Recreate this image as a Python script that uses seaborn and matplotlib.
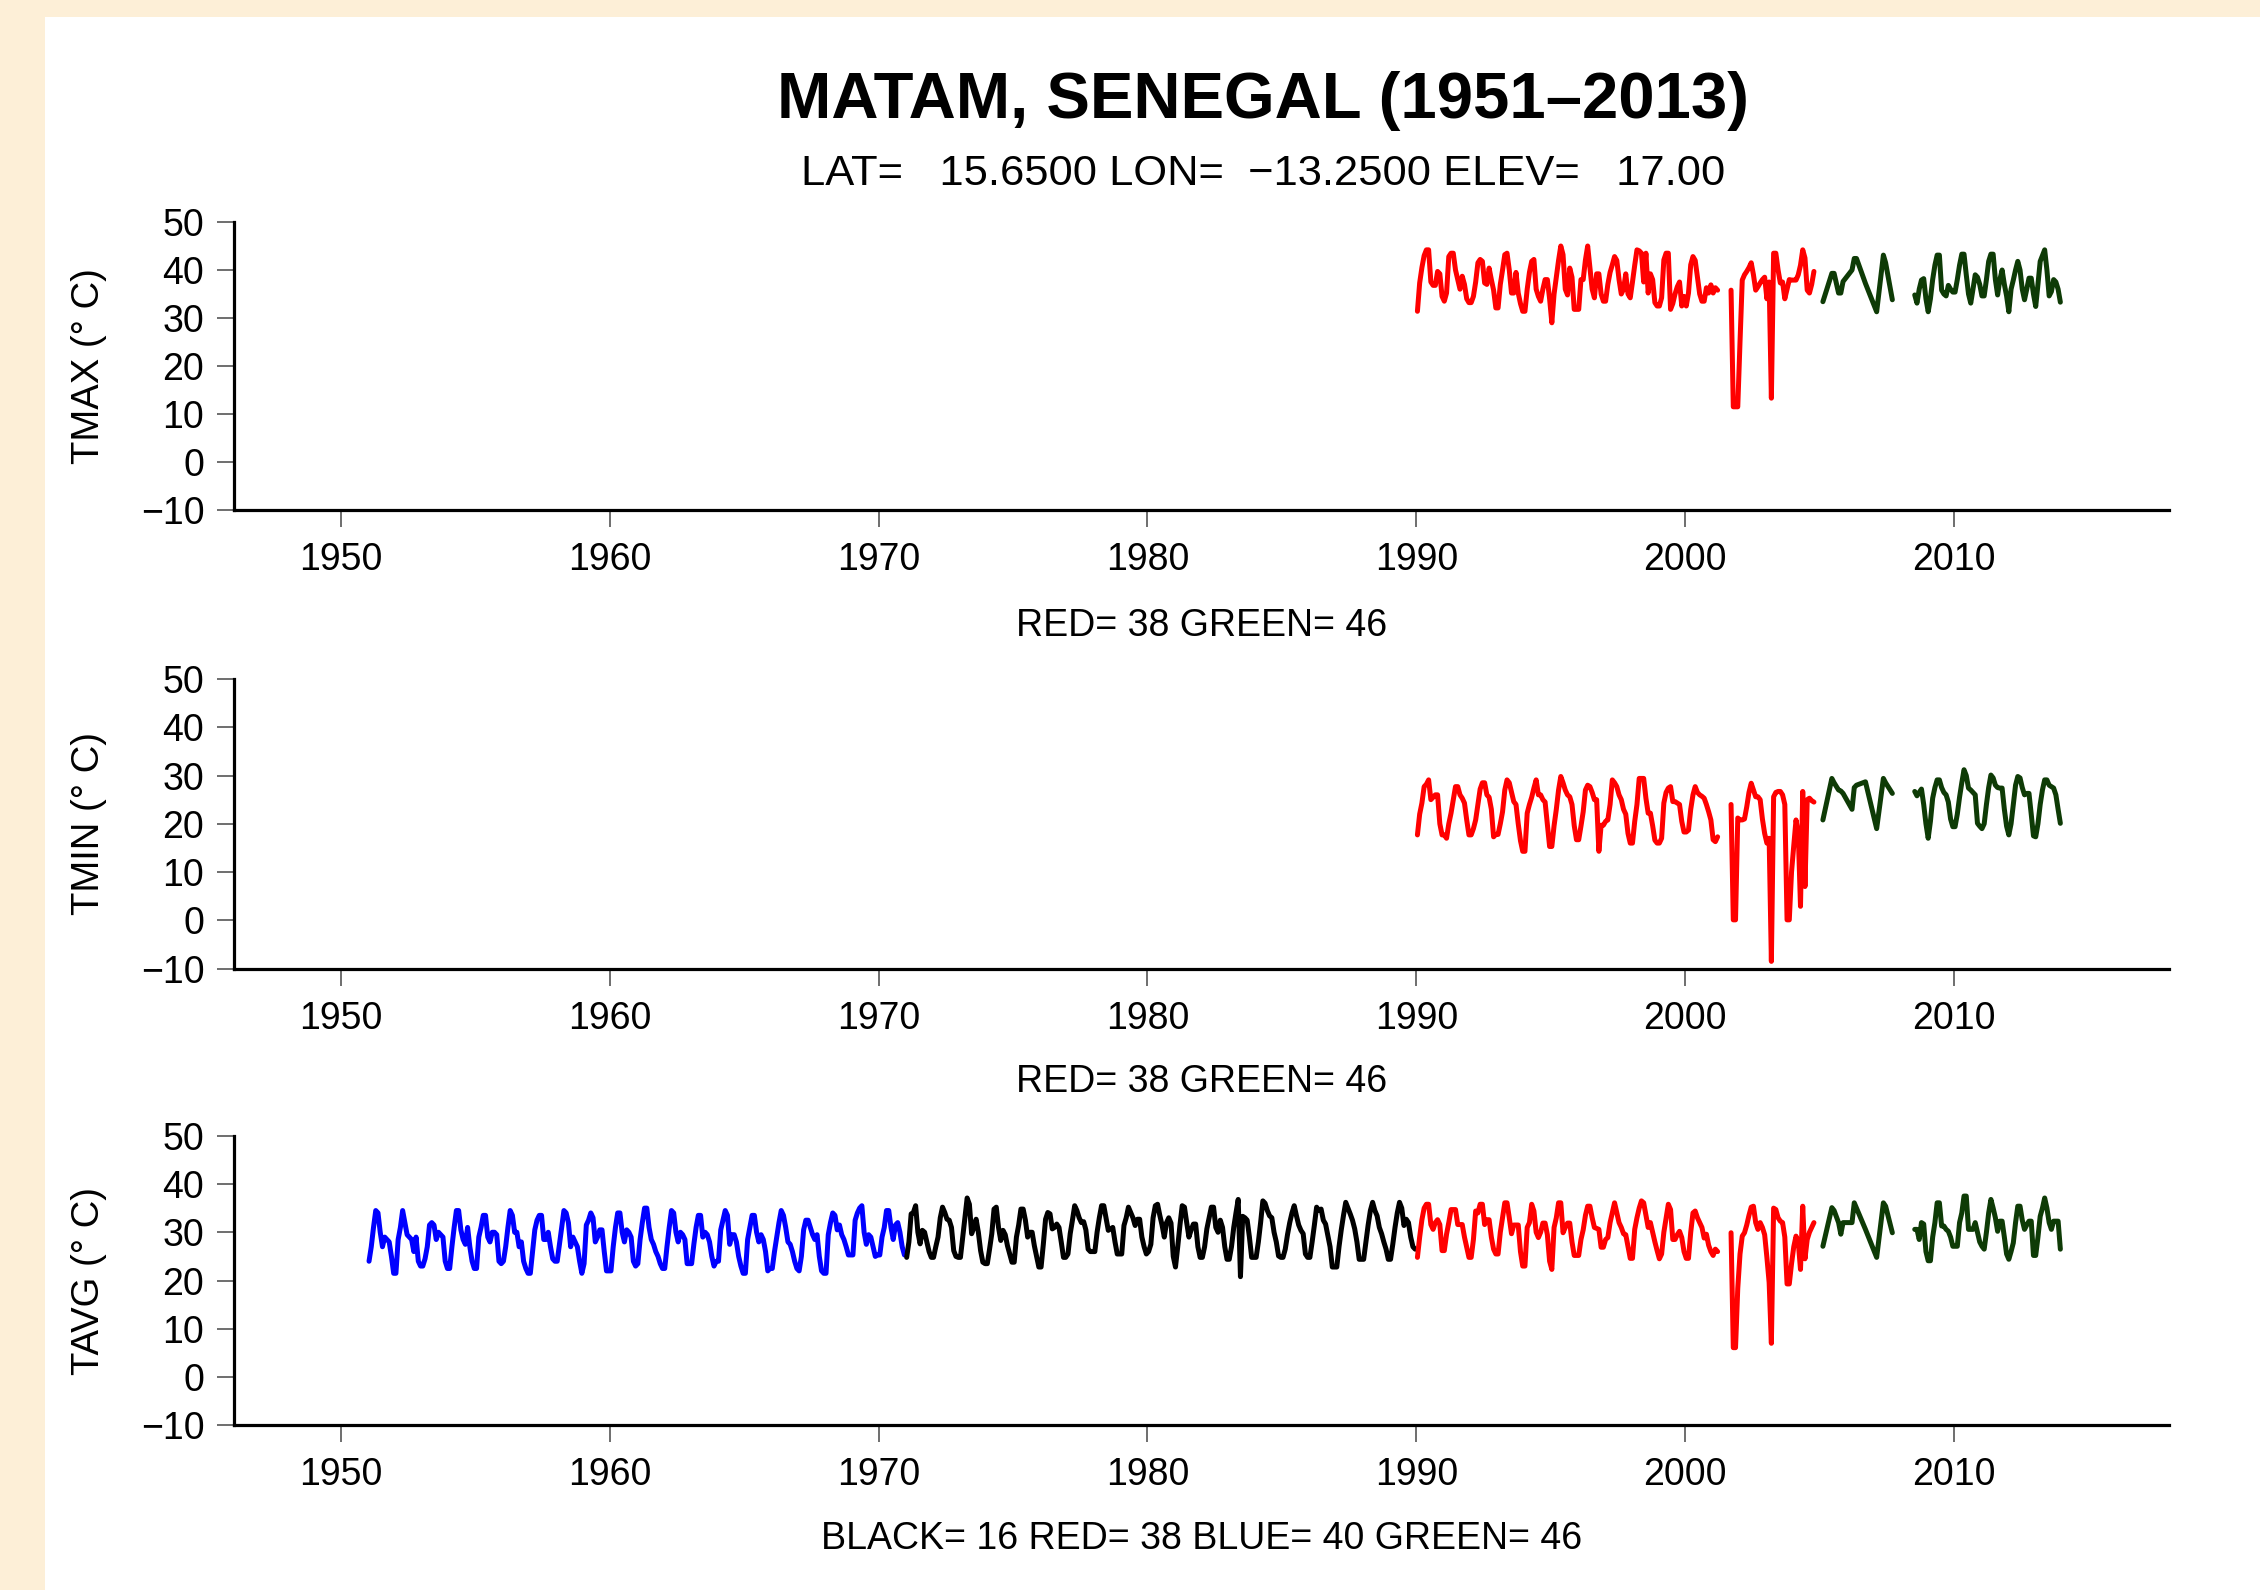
import numpy as np
import pandas as pd
import matplotlib
matplotlib.use("Agg")
import matplotlib.pyplot as plt
import seaborn as sns
from matplotlib.patches import Rectangle

# ---------------- data (monthly values) ----------------
# RED source, first block: Jan 1990 - Mar 2001
tmax_red1 = [31.4, 37.3, 40.5, 43.0, 44.2, 44.2, 37.5, 36.8, 36.8, 39.7, 39.2, 34.5,
             33.5, 35.2, 42.8, 43.5, 43.5, 40.0, 38.0, 36.0, 38.7, 37.0, 34.0, 33.2,
             33.2, 34.5, 37.5, 41.5, 42.2, 41.8, 37.3, 37.0, 40.4, 38.0, 35.8, 32.1,
             32.1, 37.0, 40.0, 43.2, 43.5, 40.0, 35.2, 35.2, 39.5, 35.2, 33.0, 31.4,
             31.4, 36.0, 39.5, 41.8, 42.2, 36.0, 34.5, 33.5, 36.0, 38.0, 38.0, 34.0,
             29.0, 35.0, 38.5, 42.0, 45.0, 43.2, 36.0, 34.8, 40.4, 38.5, 31.8, 31.8,
             31.8, 38.0, 38.0, 42.1, 45.0, 40.4, 36.0, 34.2, 39.2, 39.2, 35.0, 33.5,
             33.5, 37.0, 39.5, 41.1, 42.8, 42.0, 38.0, 35.0, 36.0, 39.2, 35.0, 34.2,
             37.5, 41.0, 44.2, 44.0, 43.5, 37.5, 43.5, 35.2, 39.2, 38.0, 33.2, 32.5,
             32.5, 34.2, 42.1, 43.5, 43.5, 31.8, 33.0, 35.0, 36.5, 37.5, 32.5, 34.5,
             32.5, 35.2, 41.1, 42.8, 42.0, 38.5, 35.0, 33.5, 33.5, 36.3, 35.2, 36.9,
             35.2, 36.3, 35.8]
tmin_red1 = [17.7, 22.0, 24.3, 27.7, 28.2, 29.1, 25.0, 25.5, 26.0, 26.0, 20.0, 17.7,
             17.7, 17.0, 20.0, 22.2, 25.0, 27.7, 27.7, 26.0, 25.3, 24.3, 20.8, 17.7,
             17.7, 19.0, 20.8, 24.0, 27.2, 28.5, 28.5, 26.0, 25.5, 23.0, 17.3, 17.8,
             17.8, 20.0, 22.5, 27.0, 29.1, 28.5, 26.5, 24.6, 24.0, 20.0, 16.5, 14.3,
             14.3, 22.2, 24.0, 25.5, 27.4, 29.1, 26.0, 26.0, 25.0, 24.5, 20.0, 15.3,
             15.3, 19.6, 23.0, 27.0, 29.8, 28.5, 27.0, 26.0, 25.6, 24.0, 19.6, 16.7,
             16.7, 19.5, 22.5, 27.0, 28.0, 27.7, 26.5, 25.0, 25.0, 14.3, 19.7, 19.7,
             20.5, 20.8, 24.0, 29.1, 28.5, 27.7, 26.0, 25.0, 23.0, 22.0, 18.0, 16.0,
             16.0, 20.5, 24.0, 29.4, 29.4, 29.4, 25.3, 22.2, 22.2, 19.6, 16.6, 16.0,
             16.0, 17.0, 24.3, 26.5, 27.4, 27.7, 24.6, 24.6, 24.3, 24.0, 20.5, 18.3,
             18.3, 18.7, 23.0, 26.0, 27.7, 26.5, 26.0, 25.7, 25.3, 24.0, 22.5, 20.8,
             16.7, 16.3, 17.3]
tavg_red1 = [24.8, 29.0, 32.6, 35.0, 35.8, 35.8, 31.6, 30.6, 32.0, 32.6, 31.6, 26.2,
             26.2, 29.6, 32.0, 34.7, 34.7, 34.7, 31.6, 31.6, 31.6, 29.0, 26.9, 24.8,
             24.8, 28.5, 34.4, 34.0, 35.8, 35.8, 31.6, 32.6, 32.6, 29.0, 26.5, 25.5,
             25.5, 30.0, 33.0, 36.1, 36.1, 33.0, 29.7, 31.5, 31.5, 31.5, 26.0, 23.0,
             23.0, 31.0, 32.0, 35.8, 34.4, 30.0, 28.9, 30.0, 31.9, 31.9, 29.5, 24.0,
             22.3, 31.0, 33.0, 36.1, 36.1, 29.9, 31.0, 31.9, 31.9, 28.0, 25.2, 25.2,
             25.2, 28.5, 30.5, 33.5, 35.4, 35.4, 33.0, 31.0, 30.8, 30.6, 26.9, 26.9,
             28.5, 28.9, 32.0, 34.0, 36.1, 34.0, 32.0, 31.0, 29.7, 29.5, 27.0, 24.6,
             24.6, 30.6, 33.0, 35.0, 36.5, 36.1, 33.5, 31.0, 32.0, 30.0, 28.0, 26.2,
             24.5, 25.5, 30.0, 32.9, 35.8, 34.7, 28.5, 28.5, 29.5, 30.2, 28.9, 26.0,
             24.6, 24.6, 30.0, 34.0, 34.4, 33.0, 32.0, 31.0, 28.8, 29.6, 27.3, 26.0,
             25.2, 26.5, 26.0]

# RED source, second block: Sep 2001 - Oct 2004
tmax_red2 = [35.8, 11.5, 11.5, 11.5,
             25.0, 37.9, 39.0, 39.7, 40.5, 41.5, 39.0, 35.8, 36.5, 37.3, 38.0, 38.5,
             34.0, 37.5, 13.3, 43.5, 43.5, 40.0, 37.3, 37.5, 34.0, 36.0, 38.0, 37.9,
             37.9, 37.9, 39.0, 41.0, 44.2, 42.5, 35.8, 35.2, 37.0, 39.7]
tmin_red2 = [24.0, 0.1, 0.1, 21.2,
             20.8, 20.8, 21.0, 23.5, 26.5, 28.4, 27.0, 25.6, 25.6, 25.0, 21.0, 18.0,
             16.0, 17.0, -8.5, 25.6, 26.5, 26.7, 26.7, 26.0, 24.0, 0.1, 0.1, 10.0,
             15.5, 20.8, 18.0, 2.9, 26.7, 7.0, 25.0, 25.3, 24.8, 24.5]
tavg_red2 = [29.9, 6.1, 6.1, 18.4,
             25.5, 29.2, 29.9, 31.5, 33.5, 35.2, 35.4, 32.0, 30.6, 32.0, 31.0, 29.5,
             24.8, 19.6, 7.0, 35.0, 34.7, 33.0, 32.3, 32.0, 29.0, 19.3, 19.3, 23.5,
             27.0, 29.2, 28.0, 22.3, 35.4, 24.5, 28.5, 30.0, 31.0, 32.0]

# GREEN source, sparse block: months counted from Jan 2005
green1_month_index = [1, 5, 6, 8, 9, 10, 14, 15, 16, 20, 25, 28, 29, 32]
tmax_green1 = [33.4, 39.3, 39.3, 35.2, 35.2, 37.6, 40.0, 42.4, 42.4, 37.2, 31.3, 43.1, 41.5, 33.8]
tmin_green1 = [20.8, 29.4, 28.5, 27.0, 26.8, 26.3, 23.0, 27.5, 28.0, 28.7, 19.0, 29.4, 28.5, 26.3]
tavg_green1 = [27.1, 35.1, 34.5, 32.0, 29.6, 32.0, 32.0, 36.1, 35.0, 30.6, 24.8, 36.1, 35.4, 29.9]

# GREEN source, second block: Jul 2008 - Dec 2013
tmax_green2 = [34.8, 33.1, 36.0, 37.9, 38.2, 34.0,
               31.3, 34.0, 38.0, 41.0, 43.1, 43.1, 35.8, 35.0, 34.6, 36.8, 36.0, 35.4,
               35.4, 38.0, 41.0, 43.3, 43.3, 39.0, 35.0, 33.1, 36.0, 39.0, 38.5, 37.0,
               34.6, 34.6, 38.0, 41.8, 43.3, 43.3, 38.0, 34.8, 38.0, 40.0, 37.0, 34.6,
               31.3, 36.0, 37.9, 40.0, 41.8, 40.0, 36.0, 33.8, 36.0, 38.3, 38.3, 35.0,
               32.4, 37.0, 41.8, 43.0, 44.2, 40.0, 34.6, 35.5, 38.0, 37.5, 36.0, 33.3]
tmin_green2 = [26.7, 25.8, 26.5, 27.2, 24.0, 20.0,
               17.0, 20.5, 25.3, 27.5, 29.1, 29.1, 27.5, 26.5, 26.0, 24.5, 21.0, 19.4,
               19.4, 22.0, 25.5, 28.5, 31.2, 30.0, 27.4, 27.0, 26.5, 26.0, 20.1, 19.5,
               19.0, 20.0, 24.0, 27.5, 30.1, 29.5, 28.0, 27.5, 27.4, 27.4, 23.0, 19.5,
               17.7, 20.0, 24.0, 28.0, 29.8, 29.5, 27.5, 26.0, 26.3, 26.3, 22.0, 17.5,
               17.3, 20.0, 24.0, 27.0, 29.1, 29.1, 28.0, 27.7, 27.4, 26.0, 23.0, 20.1]
tavg_green2 = [30.6, 30.6, 28.5, 32.0, 31.7, 26.0,
               24.1, 24.1, 29.0, 32.0, 36.1, 36.1, 31.3, 31.3, 30.6, 30.2, 29.0, 27.1,
               27.1, 27.1, 32.0, 34.0, 37.5, 37.5, 30.6, 30.6, 30.6, 32.0, 30.0, 28.0,
               27.1, 26.5, 30.0, 34.0, 36.8, 35.0, 33.0, 30.2, 32.3, 32.3, 29.0, 25.5,
               24.4, 26.0, 27.8, 32.0, 35.4, 35.4, 32.5, 30.6, 31.5, 32.3, 32.3, 25.2,
               25.2, 29.0, 33.3, 35.0, 37.1, 35.0, 32.0, 30.6, 32.3, 32.3, 32.3, 26.5]

# BLUE source (TAVG only): Jan 1951 - Dec 1970
tavg_blue = [24.0, 27.0, 31.0, 34.5, 34.0, 30.0, 27.0, 29.0, 28.5, 28.0, 25.0, 21.5,
             21.5, 28.5, 31.0, 34.5, 32.0, 29.5, 29.0, 28.5, 26.0, 29.0, 24.0, 23.0,
             23.0, 24.5, 27.0, 31.5, 32.0, 31.5, 28.5, 30.0, 29.5, 29.0, 24.0, 22.5,
             22.5, 27.0, 31.0, 34.5, 34.5, 30.5, 28.5, 27.5, 31.0, 27.0, 24.0, 22.5,
             22.5, 29.0, 31.0, 33.5, 33.5, 29.0, 28.0, 30.0, 30.0, 29.5, 24.0, 23.5,
             24.0, 27.0, 31.0, 34.5, 33.5, 30.0, 30.0, 27.0, 28.0, 24.0, 22.5, 21.5,
             21.5, 26.0, 30.5, 32.5, 33.5, 33.5, 28.5, 28.5, 30.0, 27.0, 24.5, 24.0,
             24.0, 27.5, 31.0, 34.5, 34.0, 32.0, 27.0, 29.0, 28.0, 27.0, 24.0, 21.5,
             23.5, 31.5, 32.5, 34.0, 33.0, 28.0, 29.0, 30.5, 30.5, 26.0, 22.0, 22.0,
             22.0, 27.0, 31.0, 34.0, 34.0, 30.0, 28.0, 30.5, 30.0, 29.0, 24.0, 23.0,
             23.5, 28.5, 32.0, 35.0, 35.0, 31.0, 28.5, 27.5, 26.0, 25.0, 23.5, 22.5,
             22.5, 27.0, 31.0, 34.5, 34.0, 30.0, 28.0, 30.0, 29.5, 28.5, 23.5, 23.5,
             23.5, 27.5, 31.0, 33.5, 33.5, 29.0, 30.0, 29.5, 28.0, 25.0, 23.0, 24.0,
             24.0, 30.5, 32.5, 34.5, 33.5, 27.5, 29.5, 29.5, 28.0, 25.0, 23.0, 21.5,
             21.5, 28.5, 31.0, 33.5, 33.5, 30.0, 28.0, 29.5, 28.5, 26.0, 22.0, 22.5,
             22.5, 26.0, 29.0, 32.0, 34.5, 33.5, 31.0, 28.0, 27.5, 26.0, 24.0, 22.5,
             22.0, 25.0, 30.5, 32.5, 32.5, 31.0, 29.5, 28.5, 29.5, 25.0, 22.0, 21.5,
             21.5, 29.5, 32.0, 34.0, 33.5, 30.5, 31.5, 29.5, 28.5, 27.0, 25.3, 25.3,
             25.3, 32.5, 34.0, 35.0, 35.5, 30.0, 27.5, 29.5, 29.0, 27.0, 25.0, 25.3,
             25.3, 29.0, 31.0, 34.5, 34.5, 31.0, 28.5, 31.5, 32.0, 30.0, 27.0, 25.3]

# BLACK source (TAVG only): Jan 1971 - Dec 1989
tavg_black = [24.8, 28.0, 33.8, 34.1, 35.5, 30.0, 27.6, 30.4, 30.0, 28.0, 26.0, 24.8,
              24.8, 27.0, 29.0, 33.0, 35.2, 34.1, 32.7, 32.5, 31.0, 26.2, 25.0, 24.8,
              24.8, 29.0, 33.0, 37.1, 35.8, 29.7, 31.0, 32.7, 30.0, 26.2, 23.8, 23.5,
              23.5, 26.5, 29.7, 34.8, 35.2, 31.0, 28.3, 30.4, 29.5, 27.2, 25.5, 23.8,
              23.8, 29.0, 31.5, 34.8, 34.8, 32.5, 29.0, 30.0, 30.0, 27.2, 25.0, 22.8,
              22.8, 27.5, 32.7, 34.1, 33.8, 30.7, 31.0, 31.7, 31.0, 28.0, 24.8, 24.8,
              25.5, 29.7, 32.5, 35.5, 34.5, 33.0, 32.0, 32.2, 30.5, 26.5, 26.0, 26.0,
              26.0, 30.0, 33.0, 35.5, 35.5, 33.0, 30.4, 30.7, 31.0, 28.0, 25.5, 25.5,
              25.5, 31.4, 33.0, 35.2, 34.1, 33.0, 31.4, 32.7, 32.7, 29.0, 27.0, 25.5,
              26.0, 27.5, 33.0, 35.5, 35.8, 33.5, 31.5, 29.0, 32.0, 33.0, 31.9, 25.0,
              22.8, 27.0, 31.5, 35.5, 35.2, 32.0, 29.0, 30.5, 31.7, 31.7, 27.0, 24.8,
              24.8, 27.0, 30.7, 33.0, 35.2, 35.2, 31.0, 30.0, 32.5, 31.0, 27.0, 24.4,
              24.4, 27.0, 31.0, 34.0, 36.8, 20.8, 33.3, 33.0, 32.5, 29.0, 24.8, 24.8,
              24.8, 28.0, 32.0, 36.5, 36.0, 34.5, 33.4, 33.0, 30.0, 28.0, 25.1, 24.8,
              24.8, 26.5, 29.5, 32.0, 34.0, 35.5, 33.4, 31.5, 30.4, 29.7, 25.5, 24.8,
              24.8, 28.0, 31.5, 35.2, 34.5, 34.8, 32.5, 31.7, 29.4, 27.0, 22.8, 22.8,
              22.8, 27.0, 30.5, 33.5, 36.2, 35.0, 33.8, 32.5, 30.7, 28.0, 24.4, 24.4,
              24.4, 28.0, 31.5, 34.5, 36.2, 34.5, 33.4, 31.0, 29.7, 28.0, 26.5, 24.4,
              24.4, 27.5, 31.0, 34.0, 36.2, 35.0, 31.4, 32.7, 32.0, 29.0, 27.0, 26.5]

# block start (year, month)
red1_start = (1990, 1)
red2_start = (2001, 9)
green1_base_year = 2005
green2_start = (2008, 7)
blue_start = (1951, 1)
black_start = (1971, 1)

panel_names = ["TMAX", "TMIN", "TAVG"]
panel_xlabels = ["RED= 38 GREEN= 46", "RED= 38 GREEN= 46",
                 "BLACK= 16 RED= 38 BLUE= 40 GREEN= 46"]
x_ticks = [1950, 1960, 1970, 1980, 1990, 2000, 2010]
y_ticks = [-10, 0, 10, 20, 30, 40, 50]
title = "MATAM, SENEGAL (1951\u20132013)"
subtitle = "LAT=   15.6500 LON=  \u221213.2500 ELEV=   17.00"

RED, GREEN, BLUE, BLACK = "#ff0000", "#0e3b06", "#0000ff", "#000000"


def monthly_times(start, n):
    y0, m0 = start
    return [y0 + (m0 - 1 + i + 0.5) / 12.0 for i in range(n)]


def seg(start, vals, color):
    return pd.DataFrame({"t": monthly_times(start, len(vals)), "v": vals}), color


green1_t = [green1_base_year + (k + 0.5) / 12.0 for k in green1_month_index]

panels = {
    "TMAX": [seg(red1_start, tmax_red1, RED), seg(red2_start, tmax_red2, RED),
             (pd.DataFrame({"t": green1_t, "v": tmax_green1}), GREEN),
             seg(green2_start, tmax_green2, GREEN)],
    "TMIN": [seg(red1_start, tmin_red1, RED), seg(red2_start, tmin_red2, RED),
             (pd.DataFrame({"t": green1_t, "v": tmin_green1}), GREEN),
             seg(green2_start, tmin_green2, GREEN)],
    "TAVG": [seg(blue_start, tavg_blue, BLUE), seg(black_start, tavg_black, BLACK),
             seg(red1_start, tavg_red1, RED), seg(red2_start, tavg_red2, RED),
             (pd.DataFrame({"t": green1_t, "v": tavg_green1}), GREEN),
             seg(green2_start, tavg_green2, GREEN)],
}

# ---------------- figure ----------------
sns.set_theme(style="white", rc={"text.color": "black", "axes.labelcolor": "black",
                                 "xtick.color": "black", "ytick.color": "black"})
plt.rcParams["font.family"] = ["Liberation Sans", "DejaVu Sans"]
plt.rcParams["axes.unicode_minus"] = True

W, H = 2260, 1590
fig = plt.figure(figsize=(W / 100, H / 100), dpi=100, facecolor="#fdefd7")
fig.patches.append(Rectangle((45 / W, 0), 1, 1 - 17 / H, transform=fig.transFigure,
                             facecolor="white", edgecolor="none", zorder=-5))

left_px, right_px = 233.5, 2169
panel_px = [(222, 510), (679, 968.6), (1135.7, 1425.4)]
xlabel_base = [635.5, 1092.5, 1549.4]
FS = 27
LABEL_FS = 27.5

for i, name in enumerate(panel_names):
    top, bot = panel_px[i]
    ax = fig.add_axes([left_px / W, 1 - bot / H, (right_px - left_px) / W, (bot - top) / H])
    ax.set_zorder(2)
    ax.patch.set_alpha(0)
    for df, col in panels[name]:
        sns.lineplot(data=df, x="t", y="v", ax=ax, color=col, linewidth=3.6,
                     estimator=None, sort=False, legend=False)
    ax.set_xlim(1946, 2018)
    ax.set_ylim(-10, 50)
    ax.set_xticks(x_ticks)
    ax.set_yticks(y_ticks)
    ax.set_xlabel("")
    ax.set_ylabel("")
    for s in ["top", "right"]:
        ax.spines[s].set_visible(False)
    for s in ["left", "bottom"]:
        ax.spines[s].set_visible(True)
        ax.spines[s].set_linewidth(2.3)
        ax.spines[s].set_color("black")
    ax.tick_params(axis="both", direction="out", length=12, width=1.2, color="#555555",
                   labelsize=FS, labelcolor="black", left=True, bottom=True)
    ax.tick_params(axis="x", pad=11)
    ax.tick_params(axis="y", pad=9)
    ax.grid(False)
    fig.text(89 / W, 1 - (top + bot) / 2 / H, f"{name} (\u00b0 C)", rotation=90,
             ha="center", va="center", fontsize=LABEL_FS, color="black")
    fig.text((left_px + right_px) / 2 / W, 1 - xlabel_base[i] / H, panel_xlabels[i],
             ha="center", va="baseline", fontsize=FS, color="black")

fig.text(1263 / W, 1 - 118 / H, title, ha="center", va="baseline",
         fontsize=47, fontweight="bold", color="black")
fig.text(1263 / W, 1 - 185 / H, subtitle, ha="center", va="baseline", fontsize=31.3,
         color="black")

fig.savefig("out.png", dpi=100, facecolor=fig.get_facecolor())
